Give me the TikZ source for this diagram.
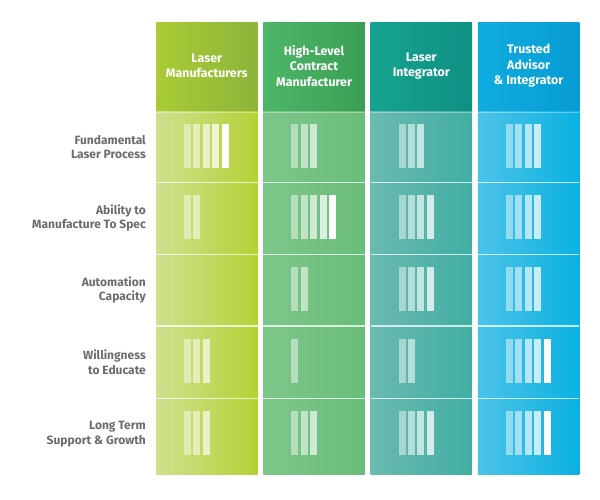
\documentclass[tikz,border=0pt]{standalone}
\usepackage{fontspec}
\setmainfont{Fira Sans}
\begin{document}
\begin{tikzpicture}[x=1pt,y=-1pt,
  hdr/.style={text=white,font=\bfseries\fontsize{12.4}{15.5}\selectfont,align=center,anchor=center,inner sep=0pt},
  lbl/.style={text=labelgray,font=\bfseries\fontsize{12}{14.7}\selectfont,align=right,anchor=east,inner sep=0pt},
  sep/.style={draw=white,draw opacity=0.75,line width=1.2pt}]
\definecolor{labelgray}{HTML}{6B6C6F}
\definecolor{hAl}{HTML}{A9CC35}\definecolor{hAr}{HTML}{8DB43B}
\definecolor{bAl}{HTML}{CFE08E}\definecolor{bAr}{HTML}{B4D236}
\definecolor{hBl}{HTML}{4DB667}\definecolor{hBr}{HTML}{3A9F55}
\definecolor{bBl}{HTML}{7DC68B}\definecolor{bBr}{HTML}{6ABD79}
\definecolor{hCl}{HTML}{16A391}\definecolor{hCr}{HTML}{0E9083}
\definecolor{bCl}{HTML}{6BBAB0}\definecolor{bCr}{HTML}{41AEA3}
\definecolor{hDl}{HTML}{10ACE0}\definecolor{hDr}{HTML}{079CD3}
\definecolor{bDl}{HTML}{4CC3E8}\definecolor{bDr}{HTML}{0AB1E1}
\useasboundingbox (0,0) rectangle (600,500);
% columns
\foreach \c/\x in {A/156,B/263.3,C/370.6,D/477.9}{
  \shade[left color=h\c l,right color=h\c r] (\x,23) rectangle ++(101.5,89);
  \shade[left color=b\c l,right color=b\c r] (\x,112) rectangle ++(101.5,362.5);
  \draw[draw=white,draw opacity=0.35,line width=1pt] (\x,112.5) -- ++(101.5,0);
  \foreach \y in {182.5,254.3,326,398.5}{
    \draw[sep] (\x,\y) -- ++(101.5,0);
  }
}
% headers
\node[hdr] (hA) at (206.75,66) {Laser\\Manufacturers};
\node[hdr] (hB) at (314.05,66) {High-Level\\Contract\\Manufacturer};
\node[hdr] (hC) at (421.35,66) {Laser\\Integrator};
\node[hdr] (hD) at (528.65,66) {Trusted\\Advisor\\\& Integrator};
% row labels
\node[lbl] (r1) at (146,147) {Fundamental\\Laser Process};
\node[lbl] (r2) at (146,218) {Ability to\\Manufacture To Spec};
\node[lbl] (r3) at (146,290) {Automation\\Capacity};
\node[lbl] (r4) at (146,362) {Willingness\\to Educate};
\node[lbl] (r5) at (146,434) {Long Term\\Support \& Growth};
% bars: row top / counts for columns A,B,C,D
\foreach \t/\na/\nb/\nc/\nd in {112/5/3/3/4, 182.5/2/5/4/4, 254.3/0/2/4/4, 326/3/1/2/5, 398.5/3/3/4/5}{
  \foreach \x/\n in {156/\na,263.3/\nb,370.6/\nc,477.9/\nd}{
    \ifnum\n>0
      \foreach \i in {1,...,\n}{
        \pgfmathsetmacro{\op}{\i==5 ? 1 : 0.35+0.1*\i}
        \fill[white,fill opacity=\op] ({\x+28+(\i-1)*9.4},{\t+12.5}) rectangle ++(7,44);
      }
    \fi
  }
}
\end{tikzpicture}
\end{document}
